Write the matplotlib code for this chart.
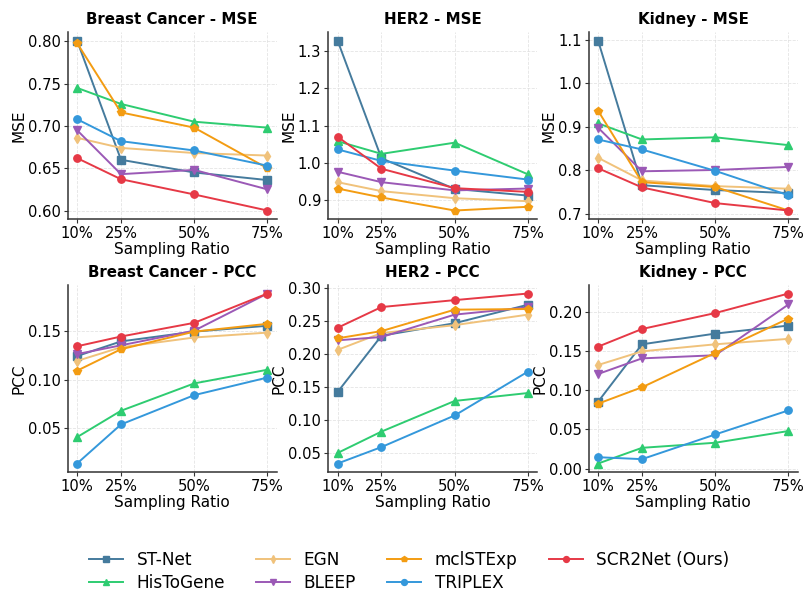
import matplotlib
matplotlib.use("Agg")
import matplotlib.pyplot as plt

ratios = [10, 25, 50, 75]
ratio_labels = ["10%", "25%", "50%", "75%"]
methods = ["ST-Net", "HisToGene", "EGN", "BLEEP", "mclSTExp", "TRIPLEX", "SCR2Net (Ours)"]
colors = ["#457b9d", "#2ecc71", "#f0c27b", "#9b59b6", "#f39c12", "#3498db", "#e63946"]
markers = ["s", "^", "d", "v", "p", "o", "o"]

bc_mse = {
    "ST-Net": [0.801, 0.660, 0.645, 0.636],
    "HisToGene": [0.745, 0.726, 0.705, 0.698],
    "EGN": [0.686, 0.674, 0.668, 0.665],
    "BLEEP": [0.695, 0.643, 0.648, 0.625],
    "mclSTExp": [0.798, 0.716, 0.698, 0.650],
    "TRIPLEX": [0.708, 0.682, 0.671, 0.653],
    "SCR2Net (Ours)": [0.662, 0.637, 0.619, 0.600],
}
her2_mse = {
    "ST-Net": [1.328, 1.012, 0.930, 0.912],
    "HisToGene": [1.058, 1.024, 1.054, 0.969],
    "EGN": [0.948, 0.924, 0.905, 0.897],
    "BLEEP": [0.976, 0.948, 0.926, 0.931],
    "mclSTExp": [0.931, 0.907, 0.872, 0.882],
    "TRIPLEX": [1.036, 1.005, 0.979, 0.955],
    "SCR2Net (Ours)": [1.070, 0.984, 0.932, 0.922],
}
kidney_mse = {
    "ST-Net": [1.098, 0.766, 0.755, 0.748],
    "HisToGene": [0.908, 0.871, 0.876, 0.858],
    "EGN": [0.829, 0.777, 0.764, 0.758],
    "BLEEP": [0.898, 0.798, 0.801, 0.808],
    "mclSTExp": [0.937, 0.773, 0.762, 0.708],
    "TRIPLEX": [0.871, 0.848, 0.799, 0.743],
    "SCR2Net (Ours)": [0.805, 0.761, 0.725, 0.708],
}
bc_pcc = {
    "ST-Net": [0.124, 0.139, 0.149, 0.155],
    "HisToGene": [0.041, 0.068, 0.096, 0.110],
    "EGN": [0.119, 0.133, 0.143, 0.148],
    "BLEEP": [0.126, 0.135, 0.150, 0.188],
    "mclSTExp": [0.109, 0.131, 0.149, 0.157],
    "TRIPLEX": [0.014, 0.054, 0.084, 0.102],
    "SCR2Net (Ours)": [0.134, 0.144, 0.158, 0.188],
}
her2_pcc = {
    "ST-Net": [0.1425, 0.228, 0.247, 0.275],
    "HisToGene": [0.050, 0.0825, 0.129, 0.141],
    "EGN": [0.2065, 0.232, 0.244, 0.260],
    "BLEEP": [0.221, 0.226, 0.260, 0.271],
    "mclSTExp": [0.224, 0.235, 0.2675, 0.2685],
    "TRIPLEX": [0.034, 0.059, 0.107, 0.1735],
    "SCR2Net (Ours)": [0.240, 0.2715, 0.282, 0.292],
}
kidney_pcc = {
    "ST-Net": [0.0855, 0.159, 0.1727, 0.183],
    "HisToGene": [0.0064, 0.0265, 0.033, 0.048],
    "EGN": [0.1325, 0.150, 0.159, 0.166],
    "BLEEP": [0.121, 0.141, 0.145, 0.210],
    "mclSTExp": [0.083, 0.104, 0.148, 0.192],
    "TRIPLEX": [0.0145, 0.012, 0.0436, 0.0744],
    "SCR2Net (Ours)": [0.156, 0.1786, 0.199, 0.224],
}

panels = [
    ("Breast Cancer - MSE", "MSE", bc_mse),
    ("HER2 - MSE", "MSE", her2_mse),
    ("Kidney - MSE", "MSE", kidney_mse),
    ("Breast Cancer - PCC", "PCC", bc_pcc),
    ("HER2 - PCC", "PCC", her2_pcc),
    ("Kidney - PCC", "PCC", kidney_pcc),
]

fig, axes = plt.subplots(2, 3, figsize=(8.04, 5.93), dpi=100)
fig.subplots_adjust(left=0.084, right=0.9925, top=0.946, bottom=0.204,
                    wspace=0.244, hspace=0.353)

for ax, (title, ylabel, data) in zip(axes.flat, panels):
    for m, c, mk in zip(methods, colors, markers):
        ax.plot(ratios, data[m], color=c, marker=mk, markersize=5.3,
                linewidth=1.4, label=m)
    ax.set_title(title, fontsize=10.8, fontweight="bold", pad=6)
    ax.set_ylabel(ylabel, fontsize=11, labelpad=1)
    ax.set_xlabel("Sampling Ratio", fontsize=11, labelpad=0.5)
    ax.set_xticks(ratios)
    ax.set_xticklabels(ratio_labels)
    ax.tick_params(labelsize=10.6, color="#333333", length=3, pad=2)
    ax.grid(True, linestyle="--", linewidth=0.6, color="#dddddd", alpha=0.8)
    ax.spines["top"].set_visible(False)
    ax.spines["right"].set_visible(False)
    for s in ("left", "bottom"):
        ax.spines[s].set_color("#333333")
        ax.spines[s].set_linewidth(1.1)

handles, labels = axes[0, 0].get_legend_handles_labels()
fig.legend(handles, labels, loc="center", bbox_to_anchor=(0.509, 0.036),
           ncol=4, frameon=False, fontsize=12.2, handlelength=2.0,
           columnspacing=1.85, handletextpad=0.8, labelspacing=0.32,
           markerscale=0.8)

fig.savefig("out.png", dpi=100)
